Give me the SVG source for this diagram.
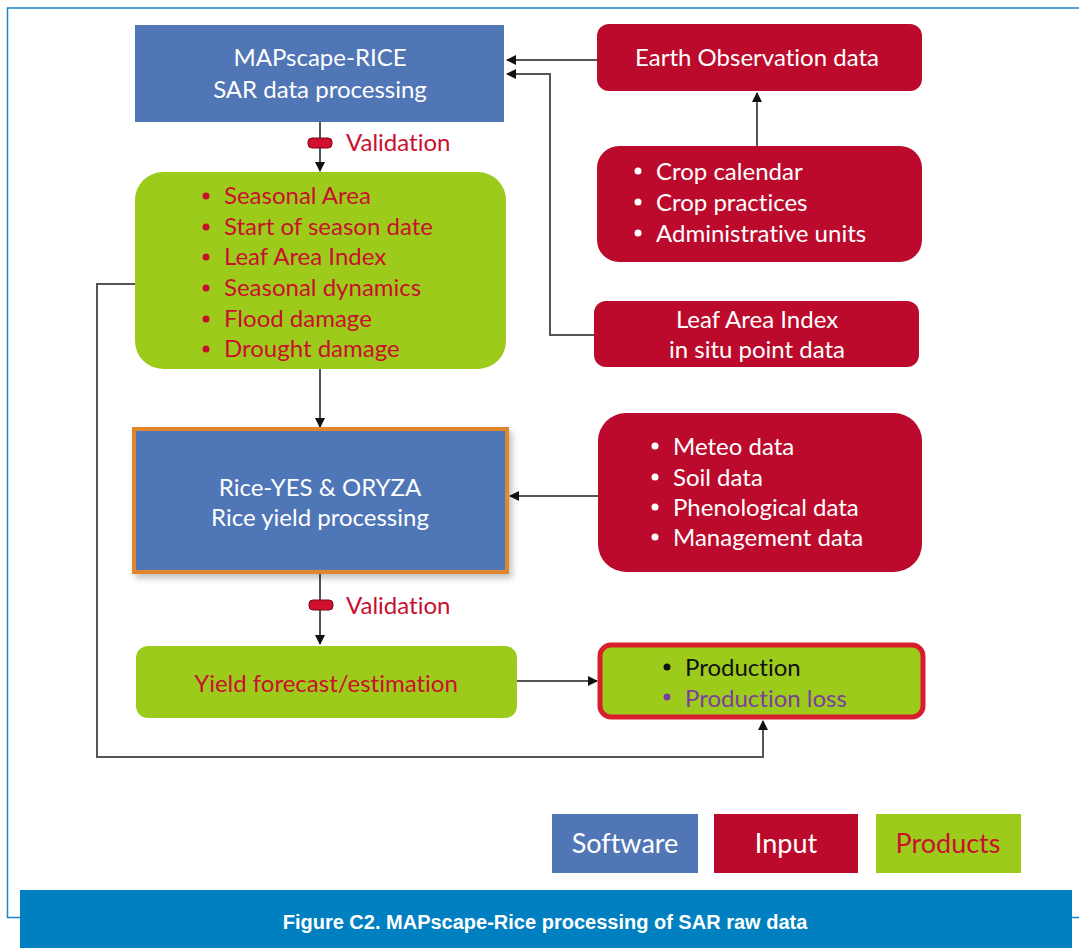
<svg xmlns="http://www.w3.org/2000/svg" width="1079" height="948" viewBox="0 0 1079 948">
<defs>
<style>
.t{font-family:Lato,"Noto Sans","Liberation Sans",sans-serif;font-size:24px;font-variant-ligatures:none;font-feature-settings:"liga" 0,"dlig" 0}
.w{fill:#ffffff}
.r{fill:#C8102E}
.blue{fill:#5076B6}
.red{fill:#BC0A2C}
.green{fill:#9DCB1B}
.conn{fill:none;stroke:#555555;stroke-width:2}
</style>
<marker id="ah" viewBox="0 0 10 10" refX="9" refY="5" markerWidth="10" markerHeight="10" markerUnits="userSpaceOnUse" orient="auto">
<path d="M0,0 L10,5 L0,10 z" fill="#111111"/>
</marker>
<filter id="sh" x="-10%" y="-10%" width="125%" height="125%">
<feDropShadow dx="3" dy="4" stdDeviation="3" flood-color="#000" flood-opacity="0.25"/>
</filter>
</defs>
<rect x="0" y="0" width="1079" height="948" fill="#ffffff"/>
<path d="M1079,8 H7.5 V917.5 H20 M1072,917.5 H1079" fill="none" stroke="#1a86c8" stroke-width="1.5"/>

<g id="connectors">
<line class="conn" x1="320" y1="122" x2="320" y2="171" marker-end="url(#ah)"/>
<line class="conn" x1="597" y1="60" x2="507" y2="60" marker-end="url(#ah)"/>
<polyline class="conn" points="594,335 550,335 550,74 507,74" marker-end="url(#ah)"/>
<line class="conn" x1="757" y1="146" x2="757" y2="93" marker-end="url(#ah)"/>
<line class="conn" x1="320" y1="369" x2="320" y2="427" marker-end="url(#ah)"/>
<line class="conn" x1="598" y1="496" x2="510" y2="496" marker-end="url(#ah)"/>
<line class="conn" x1="320" y1="573" x2="320" y2="644" marker-end="url(#ah)"/>
<line class="conn" x1="517" y1="681" x2="597" y2="681" marker-end="url(#ah)"/>
<polyline class="conn" points="135,284 97,284 97,757 763,757 763,721" marker-end="url(#ah)"/>
<rect x="308" y="138" width="24" height="10" rx="4" fill="#D0102E" stroke="#7a0a1a" stroke-width="1"/>
<text class="t r" x="346" y="151">Validation</text>
<rect x="309" y="600" width="24" height="10" rx="4" fill="#D0102E" stroke="#7a0a1a" stroke-width="1"/>
<text class="t r" x="346" y="614">Validation</text>
</g>

<g id="mapscape">
<rect class="blue" x="135" y="25" width="369" height="97"/>
<text class="t w" x="320" y="66" text-anchor="middle">MAPscape-RICE</text>
<text class="t w" x="320" y="98" text-anchor="middle">SAR data processing</text>
</g>

<g id="products1">
<rect class="green" x="135" y="172" width="371" height="197" rx="28"/>
<g class="t r">
<circle cx="206" cy="196" r="3.5" fill="#C8102E"/><text x="224" y="204">Seasonal Area</text>
<circle cx="206" cy="227" r="3.5" fill="#C8102E"/><text x="224" y="235">Start of season date</text>
<circle cx="206" cy="257" r="3.5" fill="#C8102E"/><text x="224" y="265">Leaf Area Index</text>
<circle cx="206" cy="288" r="3.5" fill="#C8102E"/><text x="224" y="296">Seasonal dynamics</text>
<circle cx="206" cy="319" r="3.5" fill="#C8102E"/><text x="224" y="327">Flood damage</text>
<circle cx="206" cy="349" r="3.5" fill="#C8102E"/><text x="224" y="357">Drought damage</text>
</g>
</g>

<g id="riceyes">
<rect class="blue" x="134" y="429" width="373" height="143" stroke="#E0872E" stroke-width="4" filter="url(#sh)"/>
<text class="t w" x="320" y="496" text-anchor="middle">Rice-YES &amp; ORYZA</text>
<text class="t w" x="320" y="526" text-anchor="middle">Rice yield processing</text>
</g>

<g id="yield">
<rect class="green" x="136" y="646" width="381" height="72" rx="12"/>
<text class="t r" x="326" y="692" text-anchor="middle">Yield forecast/estimation</text>
</g>

<g id="production">
<rect class="green" x="600" y="645" width="323" height="72" rx="11" stroke="#D81E2D" stroke-width="5"/>
<circle cx="667" cy="667" r="3.5" fill="#111111"/><text class="t" x="685" y="676" fill="#111111">Production</text>
<circle cx="667" cy="697" r="3.5" fill="#7B3FA0"/><text class="t" x="685" y="707" fill="#7B3FA0">Production loss</text>
</g>

<g id="eo">
<rect class="red" x="597" y="24" width="325" height="67" rx="12"/>
<text class="t w" x="757" y="66" text-anchor="middle">Earth Observation data</text>
</g>

<g id="crop">
<rect class="red" x="597" y="146" width="325" height="116" rx="22"/>
<g class="t w">
<circle cx="638" cy="171" r="3.5" fill="#fff"/><text x="656" y="180">Crop calendar</text>
<circle cx="638" cy="202" r="3.5" fill="#fff"/><text x="656" y="211">Crop practices</text>
<circle cx="638" cy="233" r="3.5" fill="#fff"/><text x="656" y="242">Administrative units</text>
</g>
</g>

<g id="lai">
<rect class="red" x="594" y="301" width="325" height="66" rx="12"/>
<text class="t w" x="757" y="328" text-anchor="middle">Leaf Area Index</text>
<text class="t w" x="757" y="358" text-anchor="middle">in situ point data</text>
</g>

<g id="meteo">
<rect class="red" x="598" y="413" width="324" height="159" rx="28"/>
<g class="t w">
<circle cx="655" cy="446" r="3.5" fill="#fff"/><text x="673" y="455">Meteo data</text>
<circle cx="655" cy="477" r="3.5" fill="#fff"/><text x="673" y="486">Soil data</text>
<circle cx="655" cy="507" r="3.5" fill="#fff"/><text x="673" y="516">Phenological data</text>
<circle cx="655" cy="537" r="3.5" fill="#fff"/><text x="673" y="546">Management data</text>
</g>
</g>

<g id="legend">
<rect class="blue" x="552" y="814" width="146" height="59"/>
<text class="t w" x="625" y="853" text-anchor="middle" style="font-size:27px">Software</text>
<rect class="red" x="714" y="814" width="144" height="59"/>
<text class="t w" x="786" y="853" text-anchor="middle" style="font-size:27px">Input</text>
<rect class="green" x="876" y="814" width="145" height="59"/>
<text class="t r" x="948" y="853" text-anchor="middle" style="font-size:27px">Products</text>
</g>

<g id="caption">
<rect x="20" y="890" width="1052" height="58" fill="#0080C0"/>
<text x="545" y="929" text-anchor="middle" fill="#ffffff" style="font-family:'Liberation Sans',Arial,sans-serif;font-size:20px;font-weight:bold">Figure C2. MAPscape-Rice processing of SAR raw data</text>
</g>
</svg>
